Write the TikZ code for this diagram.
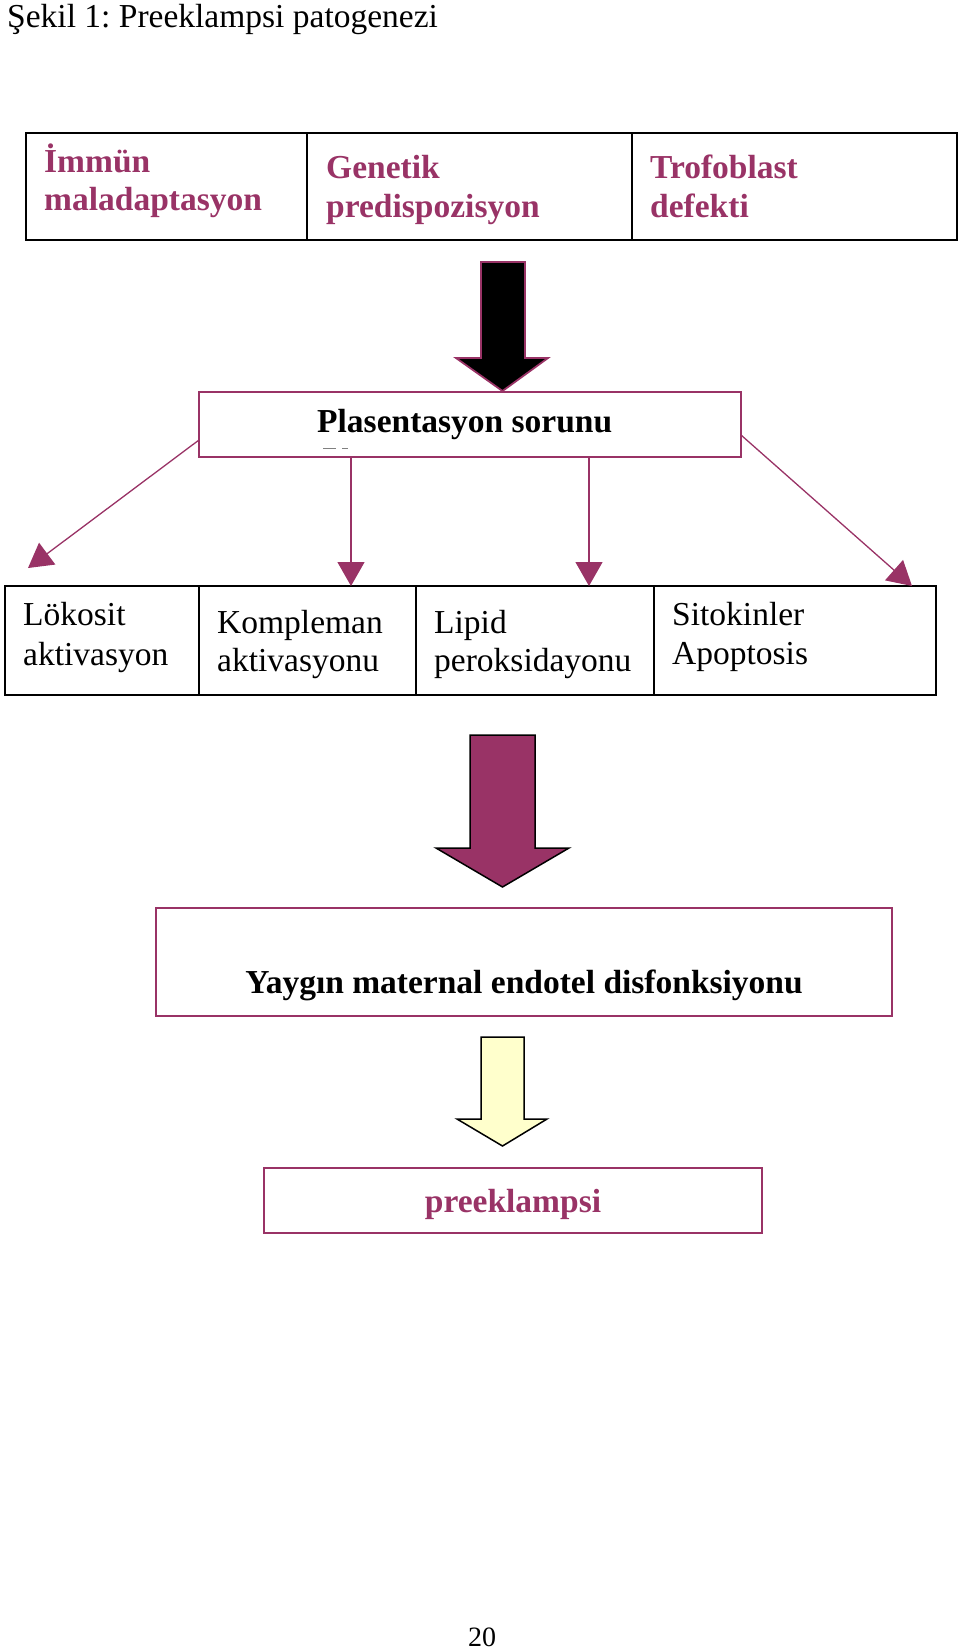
\documentclass[tikz,border=0pt]{standalone}
\usepackage{fontspec}
\setmainfont{Liberation Serif}
\usetikzlibrary{arrows.meta}
\definecolor{plum}{HTML}{993366}
\definecolor{lightyel}{HTML}{FFFFCC}
\frenchspacing
\begin{document}
\begin{tikzpicture}[x=1pt,y=-1pt,
  blackbox/.style={draw=black,line width=2.2pt,inner sep=0,outer sep=0,anchor=north west},
  plumbox/.style={draw=plum,line width=1.6pt,inner sep=0,outer sep=0,anchor=north west},
  txt/.style={inner sep=0,anchor=base west,font=\fontsize{33.5}{39}\selectfont},
  btxt/.style={inner sep=0,anchor=base west,font=\fontsize{33.5}{39}\selectfont\bfseries},
  conn/.style={draw=plum,line width=1.3pt,-{Triangle[length=24pt,width=27pt]}},
]
\useasboundingbox (0,0) rectangle (960,1652);

% title
\node[txt] (title) at (7,27) {Şekil 1: Preeklampsi patogenezi};

% top row
\node[blackbox,minimum width=281pt,minimum height=107pt] (b1) at (26,133) {};
\node[blackbox,minimum width=325pt,minimum height=107pt] (b2) at (307,133) {};
\node[blackbox,minimum width=325pt,minimum height=107pt] (b3) at (632,133) {};
\node[btxt,text=plum] (t1a) at (44,172) {İmmün};
\node[btxt,text=plum] (t1b) at (44,210) {maladaptasyon};
\node[btxt,text=plum] (t2a) at (326,178) {Genetik};
\node[btxt,text=plum] (t2b) at (326,217) {predispozisyon};
\node[btxt,text=plum] (t3a) at (650,178) {Trofoblast};
\node[btxt,text=plum] (t3b) at (650,217) {defekti};

% black block arrow
\filldraw[fill=black,draw=plum,line width=1.8pt,line join=miter]
  (481,262) -- (525,262) -- (525,358) -- (548,358) -- (502.5,391)
  -- (456,358) -- (481,358) -- cycle;

% plasentasyon box
\node[plumbox,minimum width=542pt,minimum height=65pt] (pl) at (199,392) {};
\node[btxt] (plt) at (317,432) {Plasentasyon sorunu};
\draw[gray,line width=1pt] (323,448) -- (336,448) (342,448) -- (348,448);

% lower row
\node[blackbox,minimum width=194pt,minimum height=109pt] (c1) at (5,586) {};
\node[blackbox,minimum width=217pt,minimum height=109pt] (c2) at (199,586) {};
\node[blackbox,minimum width=238pt,minimum height=109pt] (c3) at (416,586) {};
\node[blackbox,minimum width=282pt,minimum height=109pt] (c4) at (654,586) {};
\node[txt] (u1a) at (23,625) {Lökosit};
\node[txt] (u1b) at (23,665) {aktivasyon};
\node[txt] (u2a) at (217,633) {Kompleman};
\node[txt] (u2b) at (217,671) {aktivasyonu};
\node[txt] (u3a) at (434,633) {Lipid};
\node[txt] (u3b) at (434,671) {peroksidayonu};
\node[txt] (u4a) at (672,625) {Sitokinler};
\node[txt] (u4b) at (672,664) {Apoptosis};

% connectors
\coordinate (s1) at (199,440);
\coordinate (e1) at (28,568);
\coordinate (s4) at (741,435);
\coordinate (e4) at (912,586);
\coordinate (e2) at (351,586);
\coordinate (e3) at (589,586);
\draw[conn] (s1) -- (e1);
\draw[conn] (e2 |- pl.south) -- (e2);
\draw[conn] (e3 |- pl.south) -- (e3);
\draw[conn] (s4) -- (e4);

% maroon block arrow
\filldraw[fill=plum,draw=black,line width=1.5pt,line join=miter]
  (470,735) -- (535,735) -- (535,848) -- (569,848) -- (502.5,887)
  -- (436,848) -- (470,848) -- cycle;

% endothelial dysfunction box
\node[plumbox,minimum width=736pt,minimum height=108pt] (ye) at (156,908) {};
\node[inner sep=0,anchor=base,font=\fontsize{33.5}{39}\selectfont\bfseries] (yet) at (524,993) {Yaygın maternal endotel disfonksiyonu};

% yellow block arrow
\filldraw[fill=lightyel,draw=black,line width=1.5pt,line join=miter]
  (481,1037) -- (524,1037) -- (524,1119) -- (547,1119) -- (502.5,1146)
  -- (457,1119) -- (481,1119) -- cycle;

% preeklampsi box
\node[plumbox,minimum width=498pt,minimum height=65pt] (pre) at (264,1168) {};
\node[inner sep=0,anchor=base,text=plum,font=\fontsize{33.5}{39}\selectfont\bfseries] (pret) at (513,1212) {preeklampsi};

% page number
\node[inner sep=0,anchor=base,font=\fontsize{28}{32}\selectfont] (pg) at (482,1646) {20};
\end{tikzpicture}
\end{document}
